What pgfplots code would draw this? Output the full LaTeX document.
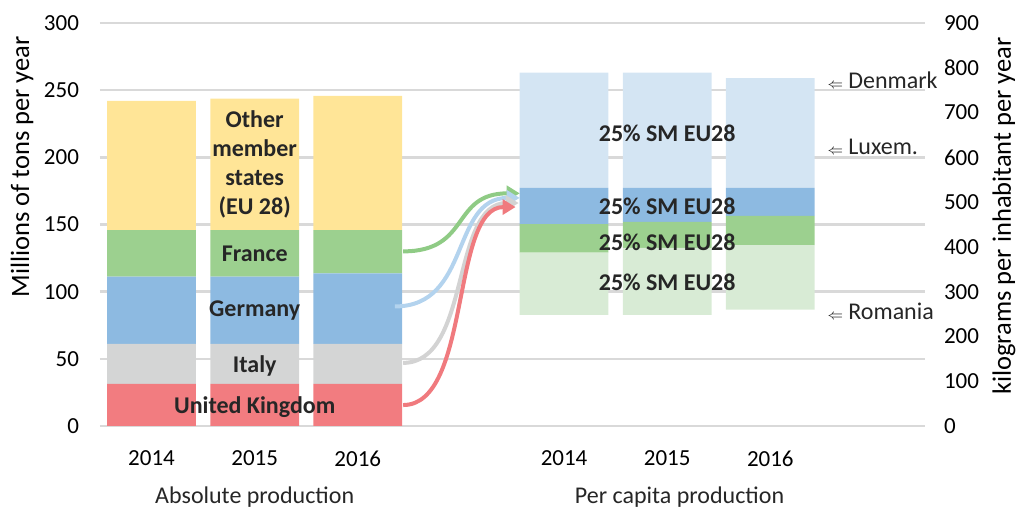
\documentclass[border=0pt]{standalone}
\usepackage{fontspec}
\setmainfont{Carlito}
\usepackage{pgfplots}
\pgfplotsset{compat=1.18}
\usetikzlibrary{arrows.meta}

\definecolor{otherc}{HTML}{FFE597}
\definecolor{francec}{HTML}{9CD08F}
\definecolor{germanyc}{HTML}{8DBAE1}
\definecolor{italyc}{HTML}{D4D5D5}
\definecolor{ukc}{HTML}{F27C80}
\definecolor{q4c}{HTML}{D4E5F3}
\definecolor{q1c}{HTML}{D8EBD5}
\definecolor{gridc}{HTML}{D9D9D9}
\definecolor{agreen}{HTML}{8FCB85}
\definecolor{ablue}{HTML}{B3D3EE}
\definecolor{agray}{HTML}{D3D3D3}
\definecolor{ared}{HTML}{F07A7E}

\tikzset{
  barlab/.style={font=\bfseries\fontsize{12}{14.5}\selectfont, text=black!85},
  plain/.style={font=\fontsize{12}{14.5}\selectfont, text=black!85},
  flow/.style={line width=2pt, -{Triangle[length=6.5pt,width=7.5pt]}},
}
\newcommand{\larr}{{\fontsize{7}{8}\selectfont$\Leftarrow$}\hspace{2.5pt}}
\pgfplotsset{
  common/.style={
    scale only axis, width=412.5pt, height=201.5pt,
    xmin=-0.5, xmax=7.5,
    ybar stacked, bar width=0.86,
    axis line style={draw=none}, major tick length=0,
    clip=false,
    tick label style={font=\fontsize{11.5}{13}\selectfont},
    /pgf/number format/assume math mode=true,
  },
}

\begin{document}
\begin{tikzpicture}
% left: absolute production, million tons
\begin{axis}[common, name=ax,
  ymin=0, ymax=300, ytick={0,50,...,300},
  ymajorgrids, grid style={line width=1.2pt, gridc},
  xtick={0,1,2,4,5,6}, xticklabels={2014,2015,2016,2014,2015,2016},
  yticklabel style={xshift=-7pt},
  xticklabel style={yshift=-9pt},
  ylabel={Millions of tons per year},
  ylabel style={at={(axis description cs:-0.0945,0.643)}, anchor=center,
    font=\fontsize{13.25}{15}\selectfont},
]
\addplot[fill=ukc, draw=none] coordinates {(0,31.3) (1,31.3) (2,31.3)};
\addplot[fill=italyc, draw=none] coordinates {(0,29.8) (1,29.8) (2,29.8)};
\addplot[fill=germanyc, draw=none] coordinates {(0,50.1) (1,50.1) (2,52.6)};
\addplot[fill=francec, draw=none] coordinates {(0,34.7) (1,34.7) (2,32.2)};
\addplot[fill=otherc, draw=none] coordinates {(0,96.1) (1,97.8) (2,99.8)};

\coordinate (lOther) at (axis cs:1,195);
\coordinate (lFrance) at (axis cs:1,128);
\coordinate (lGermany) at (axis cs:1,85.6);
\coordinate (lItaly) at (axis cs:1,44.7);
\coordinate (lUK) at (axis cs:1,14);
\coordinate (tAbs) at (axis cs:1,0);
\coordinate (tPer) at (axis cs:5.12,0);
\end{axis}

% right: per capita production, kg per inhabitant
\begin{axis}[common,
  ymin=0, ymax=900, ytick={0,100,...,900},
  hide x axis, axis y line*=right,
  yticklabel style={xshift=6pt},
  ylabel={kilograms per inhabitant per year},
  ylabel style={at={(axis description cs:1.0958,0.521)}, anchor=center,
    font=\fontsize{13.25}{15}\selectfont},
]
\addplot[fill=white, fill opacity=0, draw=none] coordinates {(4,248) (5,248) (6,260)};
\addplot[fill=q1c, draw=none] coordinates {(4,139) (5,150) (6,144)};
\addplot[fill=francec, draw=none] coordinates {(4,64) (5,58) (6,65)};
\addplot[fill=germanyc, draw=none] coordinates {(4,81) (5,76) (6,63)};
\addplot[fill=q4c, draw=none] coordinates {(4,257) (5,257) (6,245)};

% flow arrows: start, two controls, end
\coordinate (g0) at (axis cs:2.44,390);  \coordinate (g1) at (axis cs:3.1,390);
\coordinate (g2) at (axis cs:2.9,519.6); \coordinate (g3) at (axis cs:3.57,519.6);
\coordinate (b0) at (axis cs:2.36,267);  \coordinate (b1) at (axis cs:3.1,267);
\coordinate (b2) at (axis cs:2.9,509.4); \coordinate (b3) at (axis cs:3.57,509.4);
\coordinate (y0) at (axis cs:2.44,141);  \coordinate (y1) at (axis cs:3.1,141);
\coordinate (y2) at (axis cs:2.9,498);   \coordinate (y3) at (axis cs:3.56,498);
\coordinate (r0) at (axis cs:2.44,46.8); \coordinate (r1) at (axis cs:3.1,46.8);
\coordinate (r2) at (axis cs:2.9,489);   \coordinate (r3) at (axis cs:3.53,489);

\coordinate (q4) at (axis cs:5,654.6);
\coordinate (q3) at (axis cs:5,490);
\coordinate (q2) at (axis cs:5,409.5);
\coordinate (q1) at (axis cs:5,322);
\coordinate (dk) at (axis cs:6.55,773);
\coordinate (lu) at (axis cs:6.55,624);
\coordinate (ro) at (axis cs:6.55,255);
\end{axis}

\draw[flow, agreen] (g0) .. controls (g1) and (g2) .. (g3);
\draw[flow, ablue] (b0) .. controls (b1) and (b2) .. (b3);
\draw[flow, agray] (y0) .. controls (y1) and (y2) .. (y3);
\draw[flow, ared] (r0) .. controls (r1) and (r2) .. (r3);

\node[barlab, align=center] at (lOther) {Other\\member\\states\\(EU 28)};
\node[barlab] at (lFrance) {France};
\node[barlab] at (lGermany) {Germany};
\node[barlab] at (lItaly) {Italy};
\node[barlab] at (lUK) {United Kingdom};
\node[plain, yshift=-35.5pt] at (tAbs) {Absolute production};
\node[plain, yshift=-35.5pt] at (tPer) {Per capita production};

\foreach \q in {q1,q2,q3,q4} \node[barlab] at (\q) {25\% SM EU28};

\node[plain, anchor=west, inner sep=0pt] at (dk) {\larr Denmark};
\node[plain, anchor=west, inner sep=0pt] at (lu) {\larr Luxem.};
\node[plain, anchor=west, inner sep=0pt] at (ro) {\larr Romania};

\path (ax.south west) ++(-50pt,-41pt) coordinate (bl);
\path (ax.north east) ++(47pt,11.5pt) coordinate (tr);
\pgfresetboundingbox
\path[use as bounding box] (bl) rectangle (tr);
\end{tikzpicture}
\end{document}
